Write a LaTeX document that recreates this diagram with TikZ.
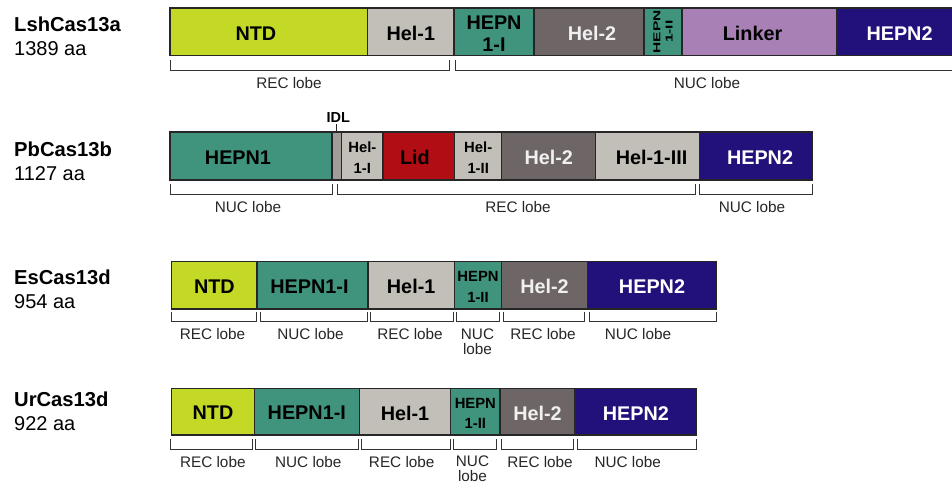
\documentclass[tikz,border=0pt]{standalone}
\usepackage{fontspec}
\setmainfont{Liberation Sans}
\usepackage{graphicx}

% domain colours
\definecolor{cNTD}{HTML}{C4D926}
\definecolor{cHel}{HTML}{C2BFB8}
\definecolor{cHEPN}{HTML}{40947D}
\definecolor{cHelTwo}{HTML}{6E6666}
\definecolor{cLinker}{HTML}{A880B6}
\definecolor{cHEPNTwo}{HTML}{22117A}
\definecolor{cLid}{HTML}{B00E14}
\definecolor{cIDL}{HTML}{A09C98}

% a domain box from x1 to x2 and y1 to y2 (pixel-like units, y downwards)
\newcommand{\domainbox}[6]{%
  \node[dombox,fill=#6,minimum width={#3-#2},minimum height={#5-#4},anchor=north west] (#1) at (#2,#4) {};}
% a lobe bracket from x1 to x2, ticks from y1 down to y2
\newcommand{\lobebracket}[4]{%
  \draw[brk] (#1,#3) -- (#1,#4) -- (#2,#4) -- (#2,#3);}

\tikzset{
  dombox/.style={rectangle,draw=black!85,line width=1.3pt,inner sep=0pt,outer sep=0pt},
  lblbig/.style={font=\bfseries\fontsize{19.8}{22}\selectfont,align=center,inner sep=0pt,yshift=-1.5pt},
  lblsmall/.style={font=\bfseries\fontsize{14.8}{20.5}\selectfont,align=center,inner sep=0pt,yshift=-1.5pt},
  lobetext/.style={font=\fontsize{15.3}{15}\selectfont,text=black!85,align=center,inner sep=0pt},
  brk/.style={draw=black!80,line width=1pt},
  protname/.style={font=\bfseries\fontsize{20.2}{22}\selectfont,anchor=base west,inner sep=0pt},
  protlen/.style={font=\fontsize{20}{22}\selectfont,anchor=base west,inner sep=0pt},
}

\begin{document}
\begin{tikzpicture}[x=1pt,y=-1pt]
\clip (0,0) rectangle (952,483);

% ---------------- LshCas13a ----------------
\node[protname] (nA) at (14,31) {LshCas13a};
\node[protlen]  (lA) at (14,55) {1389 aa};
\domainbox{ntdA}{170}{367.7}{8}{55.5}{cNTD}
\domainbox{helA}{367.7}{454}{8}{55.5}{cHel}
\domainbox{hepnIA}{454}{534}{8}{55.5}{cHEPN}
\domainbox{helTwoA}{534}{644}{8}{55.5}{cHelTwo}
\domainbox{hepnIIA}{644}{682}{8}{55.5}{cHEPN}
\domainbox{linkA}{682}{837}{8}{55.5}{cLinker}
\domainbox{hepnTwoA}{837}{962}{8}{55.5}{cHEPNTwo}
\node[lblbig,xshift=-13pt] at (ntdA.center) {NTD};
\node[lblbig] at (helA.center) {Hel-1};
\node[lblbig] at (hepnIA.center) {HEPN\\1-I};
\node[lblbig,text=white!94!black,xshift=3pt] at (helTwoA.center) {Hel-2};
\node[rotate=90,inner sep=0pt,font=\bfseries\fontsize{15.5}{19}\selectfont,yshift=-1pt] at (hepnIIA.center)
  {\scalebox{1}[0.65]{\begin{tabular}{@{}c@{}}HEPN\\1-II\end{tabular}}};
\node[lblbig,xshift=-7pt] at (linkA.center) {Linker};
\node[lblbig,text=white] at (hepnTwoA.center) {HEPN2};
\lobebracket{170}{449}{60}{70}
\lobebracket{455}{962}{60}{70}
\node[lobetext] at (289,83) {REC lobe};
\node[lobetext] at (707,83) {NUC lobe};

% ---------------- PbCas13b ----------------
\node[protname] (nB) at (14,156) {PbCas13b};
\node[protlen]  (lB) at (14,180.5) {1127 aa};
\domainbox{hepnB}{170}{332}{132}{180}{cHEPN}
\domainbox{idlB}{332}{341.7}{132}{180}{cIDL}
\domainbox{helIB}{341.7}{383}{132}{180}{cHel}
\domainbox{lidB}{383}{454.7}{132}{180}{cLid}
\domainbox{helIIB}{454.7}{501.7}{132}{180}{cHel}
\domainbox{helTwoB}{501.7}{595.7}{132}{180}{cHelTwo}
\domainbox{helIIIB}{595.7}{699.3}{132}{180}{cHel}
\domainbox{hepnTwoB}{699.3}{812.7}{132}{180}{cHEPNTwo}
\node[lblbig,xshift=-13pt] at (hepnB.center) {HEPN1};
\node[lblsmall] at (helIB.center) {Hel-\\1-I};
\node[lblbig,xshift=-4pt] at (lidB.center) {Lid};
\node[lblsmall] at (helIIB.center) {Hel-\\1-II};
\node[lblbig,text=white!94!black] at (helTwoB.center) {Hel-2};
\node[lblbig,xshift=4pt] at (helIIIB.center) {Hel-1-III};
\node[lblbig,text=white,xshift=4pt] at (hepnTwoB.center) {HEPN2};
\node[font=\bfseries\fontsize{14.5}{14.5}\selectfont,anchor=base,inner sep=0pt] (idlT) at (338.3,122.7) {IDL};
\coordinate (idlTick) at (336.7,125);
\draw[black!85,line width=1pt] (idlTick) -- (idlTick |- idlB.north) -- ++(0,-8);
\lobebracket{170}{332}{184}{194}
\lobebracket{337.7}{695}{184}{194}
\lobebracket{699}{812.7}{184}{194}
\node[lobetext] at (248,207) {NUC lobe};
\node[lobetext] at (518,207) {REC lobe};
\node[lobetext] at (752,207) {NUC lobe};

% ---------------- EsCas13d ----------------
\node[protname] (nC) at (14,284.3) {EsCas13d};
\node[protlen]  (lC) at (14,308.5) {954 aa};
\domainbox{ntdC}{171.7}{257}{261.7}{309}{cNTD}
\domainbox{hepnIC}{257}{368}{261.7}{309}{cHEPN}
\domainbox{helC}{368}{454.3}{261.7}{309}{cHel}
\domainbox{hepnIIC}{454.3}{501.7}{261.7}{309}{cHEPN}
\domainbox{helTwoC}{501.7}{587.3}{261.7}{309}{cHelTwo}
\domainbox{hepnTwoC}{587.3}{716.7}{261.7}{309}{cHEPNTwo}
\node[lblbig] at (ntdC.center) {NTD};
\node[lblbig,xshift=-3pt] at (hepnIC.center) {HEPN1-I};
\node[lblbig] at (helC.center) {Hel-1};
\node[lblsmall] at (hepnIIC.center) {HEPN\\1-II};
\node[lblbig,text=white!94!black] at (helTwoC.center) {Hel-2};
\node[lblbig,text=white] at (hepnTwoC.center) {HEPN2};
\lobebracket{171.7}{256.7}{311.5}{321.5}
\lobebracket{260}{367.3}{311.5}{321.5}
\lobebracket{370.7}{453.3}{311.5}{321.5}
\lobebracket{456}{499.3}{311.5}{321.5}
\lobebracket{503.3}{584.3}{311.5}{321.5}
\lobebracket{589}{716.7}{311.5}{321.5}
\node[lobetext] at (212.5,334.3) {REC lobe};
\node[lobetext] at (310.5,334.3) {NUC lobe};
\node[lobetext] at (410,334.3) {REC lobe};
\node[lobetext] at (477.5,341.8) {NUC\\lobe};
\node[lobetext] at (543,334.3) {REC lobe};
\node[lobetext] at (638,334.3) {NUC lobe};

% ---------------- UrCas13d ----------------
\node[protname] (nD) at (14,406) {UrCas13d};
\node[protlen]  (lD) at (14,430.7) {922 aa};
\domainbox{ntdD}{171.7}{254.3}{388.3}{435}{cNTD}
\domainbox{hepnID}{254.3}{359.3}{388.3}{435}{cHEPN}
\domainbox{helD}{359.3}{450.7}{388.3}{435}{cHel}
\domainbox{hepnIID}{450.7}{500}{388.3}{435}{cHEPN}
\domainbox{helTwoD}{500}{575}{388.3}{435}{cHelTwo}
\domainbox{hepnTwoD}{575}{696.7}{388.3}{435}{cHEPNTwo}
\node[lblbig] at (ntdD.center) {NTD};
\node[lblbig] at (hepnID.center) {HEPN1-I};
\node[lblbig] at (helD.center) {Hel-1};
\node[lblsmall] at (hepnIID.center) {HEPN\\1-II};
\node[lblbig,text=white!94!black] at (helTwoD.center) {Hel-2};
\node[lblbig,text=white] at (hepnTwoD.center) {HEPN2};
\lobebracket{170.7}{252.3}{439.3}{449}
\lobebracket{255.7}{358.3}{439.3}{449}
\lobebracket{361.7}{450}{439.3}{449}
\lobebracket{453.3}{496.7}{439.3}{449}
\lobebracket{501.7}{573.3}{439.3}{449}
\lobebracket{577.7}{696.7}{439.3}{449}
\node[lobetext] at (212.8,461.7) {REC lobe};
\node[lobetext] at (308.3,461.7) {NUC lobe};
\node[lobetext] at (401.7,461.7) {REC lobe};
\node[lobetext] at (472.5,468.7) {NUC\\lobe};
\node[lobetext] at (540,461.7) {REC lobe};
\node[lobetext] at (627.7,461.7) {NUC lobe};
\end{tikzpicture}
\end{document}
